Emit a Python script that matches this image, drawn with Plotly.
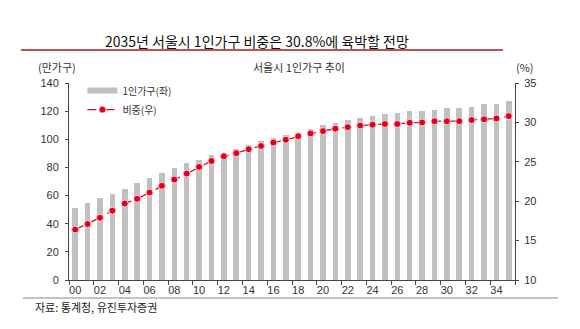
import plotly.graph_objects as go

years = list(range(2000, 2036))
tick_years = list(range(2000, 2035, 2))
tick_labels = [f"{y % 100:02d}" for y in tick_years]
households = [51.5, 54.4, 58.4, 61, 64.5, 69, 72.5, 76.3, 79.4, 83, 85.5, 88.6,
              90.5, 93, 96.2, 98.8, 100.9, 103, 104.7, 107.5, 109.9, 111.7, 113.4, 115,
              116.7, 118.2, 118.9, 119.8, 120.3, 121, 121.9, 122.4, 123.3, 125, 125.4, 127.1]
share = [16.4, 17.1, 17.9, 18.8, 19.7, 20.3, 21.1, 21.95, 22.75, 23.5, 24.35, 25.1,
         25.7, 26.1, 26.6, 27.0, 27.45, 27.8, 28.25, 28.6, 28.9, 29.2, 29.4, 29.6,
         29.7, 29.8, 29.8, 29.95, 30.0, 30.15, 30.15, 30.15, 30.3, 30.4, 30.5, 30.8]
left_ticks = list(range(0, 141, 20))
right_ticks = list(range(10, 36, 5))

FONT = "Arial, Liberation Sans, Noto Sans CJK KR"
KFONT = "Noto Sans CJK KR, Arial"

fig = go.Figure()
fig.add_trace(go.Bar(x=years, y=households, width=0.45, marker_color="#c0c0c0",
                     marker_line_width=0, showlegend=False, yaxis="y"))
# legend swatch for the bars
fig.add_trace(go.Scatter(x=[None], y=[None], mode="lines", name="1인가구(좌)",
                         line=dict(color="#c0c0c0", width=6)))
fig.add_trace(go.Scatter(x=years, y=share, mode="lines+markers", name="비중(우)", yaxis="y2",
                         line=dict(color="#c8102e", width=1.3, dash="dash"),
                         marker=dict(color="#e0001b", size=7, line=dict(color="#ffd6d6", width=1))))

boundaries = [y - 0.5 for y in range(2000, 2037, 2)]

fig.update_layout(
    width=580, height=329,
    margin=dict(l=69, r=65, t=83, b=49),
    paper_bgcolor="white", plot_bgcolor="white",
    font=dict(family=FONT, size=11, color="#333"),
    bargap=0,
    xaxis=dict(range=[1999.5, 2035.5], tickmode="array", tickvals=tick_years, ticktext=tick_labels,
               ticks="", showgrid=False, zeroline=False, showline=True, linecolor="#444", linewidth=1,
               ticklabelstandoff=0, tickfont=dict(size=11, color="#333"),
               minor=dict(tickmode="array", tickvals=boundaries, ticks="outside", ticklen=4,
                          tickcolor="#444", showgrid=False)),
    yaxis=dict(range=[0, 140], tickmode="array", tickvals=left_ticks, ticks="outside", ticklen=3,
               tickcolor="#444", showgrid=False, zeroline=False, showline=True, linecolor="#444",
               linewidth=1, ticklabelstandoff=4, tickfont=dict(size=11, color="#333")),
    yaxis2=dict(range=[10, 35], tickmode="array", tickvals=right_ticks, overlaying="y", side="right",
                ticks="outside", ticklen=3, tickcolor="#444", showgrid=False, zeroline=False,
                showline=True, linecolor="#444", linewidth=1, ticklabelstandoff=3,
                tickfont=dict(size=11, color="#333")),
    legend=dict(x=0.03, y=1.035, xanchor="left", yanchor="top", bgcolor="rgba(0,0,0,0)",
                font=dict(family=KFONT, size=10, color="#333"), itemwidth=30, tracegroupgap=0),
    annotations=[
        dict(text="2035년 서울시 1인가구 비중은 30.8%에 육박할 전망", xref="paper", yref="paper",
             x=0.4215, y=1.214, xanchor="center", yanchor="middle", showarrow=False,
             font=dict(family=KFONT, size=14, color="#111")),
        dict(text="서울시 1인가구 추이", xref="paper", yref="paper", x=0.5157, y=1.081,
             xanchor="center", yanchor="middle", showarrow=False,
             font=dict(family=KFONT, size=11, color="#333")),
        dict(text="(만가구)", xref="paper", yref="paper", x=-0.027, y=1.081,
             xanchor="center", yanchor="middle", showarrow=False,
             font=dict(family=KFONT, size=11, color="#333")),
        dict(text="(%)", xref="paper", yref="paper", x=1.0224, y=1.081,
             xanchor="center", yanchor="middle", showarrow=False,
             font=dict(family=KFONT, size=11, color="#333")),
        dict(text="자료: 통계청, 유진투자증권", xref="paper", yref="paper", x=-0.0807, y=-0.137,
             xanchor="left", yanchor="middle", showarrow=False,
             font=dict(family=KFONT, size=11, color="#222")),
    ],
    shapes=[
        dict(type="line", xref="paper", yref="paper", x0=-0.1076, x1=0.973, y0=1.1675, y1=1.1675,
             line=dict(color="#a8141e", width=1.5)),
        dict(type="line", xref="paper", yref="paper", x0=-0.103, x1=1.096, y0=-0.0914, y1=-0.0914,
             line=dict(color="#888", width=1)),
    ],
)

fig.write_html("out.html")
